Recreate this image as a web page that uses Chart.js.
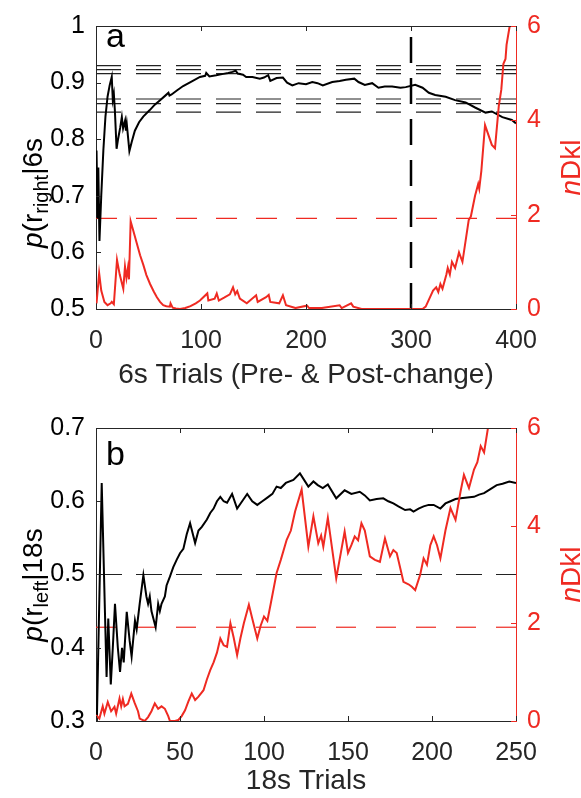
<!DOCTYPE html>
<html>
<head>
<title>p(r) and nDkl traces</title>
<script src="https://cdn.jsdelivr.net/npm/chart.js@4.4.0/dist/chart.umd.min.js"></script>
<style>
    body { margin: 0; background: #fff; }
    #wrap { position: relative; width: 581px; height: 798px; }
    canvas { position: absolute; left: 0; }
    #chartA { top: 0; }
    #chartB { top: 399px; }
</style>
</head>
<body>
<div id="wrap">
    <canvas id="chartA" width="581" height="399"></canvas>
    <canvas id="chartB" width="581" height="399"></canvas>
</div>
<script>
// ---- panel a: 6s trials, [trial, value] ----
const aProb = [
    [0.5,0.78],[1.5,0.66],[2.2,0.75],[3.3,0.62],[5,0.70],[7,0.78],[9,0.84],[11,0.875],[13,0.895],[15,0.91],
    [16,0.87],[17,0.88],[18,0.85],[19.6,0.783],[21,0.80],[23,0.82],[24.6,0.839],[25.8,0.819],[27.7,0.833],[28.5,0.815],
    [29.3,0.827],[31.8,0.779],[34,0.795],[37,0.815],[41,0.83],[45,0.84],[51,0.851],[56,0.861],[61,0.869],[66,0.877],
    [69,0.882],[70,0.877],[72,0.879],[77,0.886],[83,0.894],[90,0.901],[99,0.910],[104,0.912],[105,0.917],[108,0.911],
    [114.5,0.913],[120,0.915],[126,0.917],[130,0.919],[133,0.921],[135,0.916],[140,0.914],[143,0.910],[149,0.910],[156,0.907],
    [160,0.909],[164,0.913],[166,0.903],[172,0.908],[178,0.909],[182,0.900],[187,0.895],[193,0.899],[200,0.897],[206,0.901],
    [211,0.899],[216,0.895],[225,0.901],[232,0.903],[238,0.905],[246,0.907],[250,0.901],[256,0.896],[263,0.899],[269,0.891],
    [275,0.893],[282,0.893],[290,0.891],[295,0.892],[304,0.896],[311,0.891],[317,0.882],[323,0.878],[333,0.875],[342,0.869],
    [352,0.865],[361,0.856],[371,0.847],[377,0.849],[387,0.839],[396,0.834],[400,0.828]
];
const aKl = [
    [0.5,0.12],[3,0.76],[5,0.39],[8,0.15],[11,0.08],[14,0.12],[15,0.15],[17,0.10],[20,1.04],[22.6,0.73],
    [26,0.43],[27.6,0.90],[29,0.66],[30.4,0.87],[31.4,0.63],[33,1.86],[35,1.70],[38.5,1.42],[42,1.14],[45,0.94],
    [48,0.72],[51.5,0.53],[55,0.37],[58,0.25],[61,0.15],[64,0.08],[67,0.06],[70.4,0.05],[71,0.12],[73,0.03],
    [76,0.01],[80,0.0],[85,0.02],[90,0.06],[95,0.12],[99,0.18],[106,0.33],[107,0.18],[113,0.22],[115,0.33],
    [117,0.18],[122,0.24],[127.5,0.31],[130.5,0.46],[132.6,0.31],[134.5,0.38],[137,0.22],[143.6,0.12],[152.5,0.29],[154,0.15],
    [162,0.25],[164.5,0.30],[166,0.15],[174.5,0.12],[178,0.29],[181,0.08],[190,0.02],[201,0.07],[203,0.02],[215,0.02],
    [232,0.08],[234,0.02],[243,0.12],[245,0.05],[253,0.0],[311,0.0],[314,0.05],[321,0.39],[324,0.46],[326,0.36],
    [328,0.53],[330,0.43],[333.7,0.73],[335,0.87],[337,0.73],[339,1.0],[342,0.87],[345.7,1.2],[349,1.0],[355,1.89],
    [357,1.96],[361,2.4],[364,2.65],[365,2.55],[367,2.93],[370.5,3.9],[377,3.48],[380,3.41],[383.6,4.3],[386,4.65],
    [388,5.2],[390,5.3],[391,5.6],[394,6.0],[396,6.4]
];
const aBounds = [0.930, 0.923, 0.916, 0.871, 0.863, 0.848];
const aChange = 300;
const aXTicks = [0, 100, 200, 300, 400];
const aYTicks = [0.5, 0.6, 0.7, 0.8, 0.9, 1];

// ---- panel b: 18s trials ----
const bProb = [
    [0.5,0.30],[3.4,0.625],[6.3,0.36],[7.3,0.44],[8.8,0.35],[10,0.40],[11.3,0.46],[13,0.40],[14.3,0.367],[15.5,0.40],
    [16.5,0.38],[18.3,0.449],[20,0.41],[21.2,0.388],[23.2,0.437],[24.2,0.425],[26,0.46],[28.2,0.499],[30,0.47],[31,0.46],
    [32,0.47],[33,0.45],[35.5,0.428],[37,0.46],[38,0.45],[39,0.46],[41,0.47],[42,0.485],[44,0.497],[46,0.51],
    [48,0.52],[50,0.529],[52,0.535],[54,0.555],[56,0.57],[59,0.543],[61,0.56],[63,0.565],[66,0.575],[68,0.584],
    [70,0.59],[72,0.60],[74,0.606],[76,0.60],[78,0.598],[81,0.61],[84,0.59],[87,0.60],[90,0.61],[93,0.60],
    [96,0.595],[99,0.60],[102,0.605],[105,0.61],[107.5,0.62],[110,0.618],[113,0.625],[117.5,0.629],[121.4,0.638],[126.4,0.62],
    [129.4,0.627],[132,0.622],[135,0.618],[138,0.623],[143,0.604],[148,0.615],[152,0.61],[157,0.613],[160,0.608],[163,0.601],
    [167,0.603],[171,0.604],[174,0.60],[177,0.597],[180,0.593],[184,0.588],[187,0.589],[189,0.586],[192,0.59],[195,0.593],
    [198,0.595],[201,0.595],[205,0.590],[208,0.597],[211,0.60],[214,0.603],[217,0.604],[221,0.605],[225,0.606],[228,0.609],
    [231,0.611],[235,0.617],[238.5,0.622],[242,0.624],[246,0.627],[250,0.625]
];
const bKl = [
    [0,0.12],[2,0.05],[4,0.3],[5,0.15],[7,0.39],[9,0.2],[11,0.29],[12,0.15],[14,0.46],[15,0.3],
    [16,0.45],[17,0.3],[19,0.35],[21,0.56],[23,0.37],[25,0.2],[26,0.05],[29,0.0],[31,0.08],[33,0.2],
    [35,0.36],[37,0.25],[39,0.3],[41,0.25],[43,0.1],[44,0.0],[47,0.0],[49,0.02],[51,0.1],[53,0.22],
    [55,0.4],[57,0.56],[59,0.43],[61,0.5],[64,0.63],[66,0.85],[68,1.04],[70,1.2],[72,1.4],[74,1.69],
    [76,1.55],[78,1.52],[80,2.0],[82,1.7],[84,1.35],[86,1.7],[88,2.0],[91,2.38],[93,2.1],[96,1.69],
    [98,1.95],[100,2.14],[102,2.05],[104,2.4],[107.5,3.03],[110,3.3],[113.5,3.71],[116,3.9],[118.5,4.29],[122.4,4.74],
    [126.4,3.57],[129.4,4.19],[132.3,3.64],[134,3.8],[135.3,3.57],[138,4.16],[143,2.92],[148,3.88],[150,3.44],[152,3.6],
    [154,3.78],[156,3.7],[158,4.05],[160,3.9],[163,3.37],[166,3.3],[169,3.26],[172,3.74],[175,3.37],[177,3.5],
    [179,3.44],[183,2.85],[186,2.8],[188,2.75],[190,2.68],[193,3.0],[195,3.33],[197,3.2],[199,3.6],[201,3.78],
    [203,3.6],[205,3.33],[208,3.9],[211,4.36],[214,4.12],[217,4.7],[219,5.04],[222,4.77],[225,5.15],[227,5.3],
    [229,5.63],[231,5.5],[233.5,6.04],[235,6.3]
];
const bChance = 0.5;
const bXTicks = [0, 50, 100, 150, 200, 250];
const bYTicks = [0.3, 0.4, 0.5, 0.6, 0.7];

// shared right axis
const klTicks = [0, 2, 4, 6];
const klCrit = 1.92;

const AX = '#262626';
const RED = '#ef2a22';
const FAM = '"Liberation Sans", Arial, Helvetica, sans-serif';
Chart.defaults.font.family = FAM;

function pts(arr) { return arr.map(d => ({x: d[0], y: d[1]})); }
function hline(v, x0, x1, axis, color, dash, w) {
    return { data: [{x: x0, y: v}, {x: x1, y: v}], yAxisID: axis, borderColor: color,
             borderWidth: w, borderDash: dash };
}
// matlab style: 1 not 1.0
function fmt(v) { return String(+v.toFixed(2)); }

function drawRich(ctx, parts, x, y) {
    ctx.save();
    ctx.translate(x, y);
    ctx.rotate(-Math.PI / 2);
    ctx.textAlign = 'left';
    ctx.textBaseline = 'alphabetic';
    let w = 0;
    parts.forEach(p => { ctx.font = p.font; w += ctx.measureText(p.t).width; });
    let cx = -w / 2;
    parts.forEach(p => {
        ctx.font = p.font;
        ctx.fillStyle = p.color;
        ctx.fillText(p.t, cx, p.dy || 0);
        cx += ctx.measureText(p.t).width;
    });
    ctx.restore();
}

const decor = {
    id: 'decor',
    afterDraw(chart, args, o) {
        const {ctx, chartArea: a, scales} = chart;
        ctx.save();
        ctx.lineWidth = 1;
        ctx.strokeStyle = AX;
        ctx.beginPath();
        ctx.moveTo(a.left, a.top + 0.5);
        ctx.lineTo(a.right, a.top + 0.5);
        o.xTicks.forEach(v => {
            const x = Math.round(scales.x.getPixelForValue(v)) + 0.5;
            ctx.moveTo(x, a.bottom); ctx.lineTo(x, a.bottom - 5);
            ctx.moveTo(x, a.top); ctx.lineTo(x, a.top + 5);
        });
        o.yTicks.forEach(v => {
            const y = Math.round(scales.y.getPixelForValue(v)) + 0.5;
            ctx.moveTo(a.left, y); ctx.lineTo(a.left + 5, y);
        });
        ctx.stroke();
        ctx.strokeStyle = RED;
        ctx.beginPath();
        klTicks.forEach(v => {
            const y = Math.round(scales.y2.getPixelForValue(v)) + 0.5;
            ctx.moveTo(a.right, y); ctx.lineTo(a.right - 5, y);
        });
        ctx.stroke();

        // panel letter
        ctx.fillStyle = '#000';
        ctx.font = '34px ' + FAM;
        ctx.textBaseline = 'alphabetic';
        ctx.fillText(o.letter, 106, o.letterY);

        // axis titles with subscripts
        const big = '28px ' + FAM, it = 'italic 28px ' + FAM, sub = '20px ' + FAM;
        drawRich(ctx, [
            {t: 'p', font: it, color: '#000'},
            {t: '(r', font: big, color: '#000'},
            {t: o.sub, font: sub, color: '#000', dy: 6},
            {t: o.cond, font: big, color: '#000'}
        ], 42, o.yTitleY);
        drawRich(ctx, [
            {t: 'n', font: it, color: RED},
            {t: 'Dkl', font: big, color: RED}
        ], 580, (a.top + a.bottom) / 2);
        ctx.restore();
    }
};

function panel(id, p) {
    const tickFont = {size: 25};
    return new Chart(document.getElementById(id), {
        type: 'line',
        data: { datasets: p.datasets },
        options: {
            responsive: false,
            animation: false,
            layout: { padding: { top: p.top, left: 0, right: 0, bottom: 0 } },
            elements: { point: { radius: 0 }, line: { tension: 0 } },
            plugins: { legend: { display: false }, tooltip: { enabled: false }, decor: p },
            scales: {
                x: {
                    type: 'linear', min: 0, max: p.xMax,
                    afterBuildTicks: s => { s.ticks = p.xTicks.map(v => ({value: v})); },
                    afterFit: s => { s.height = p.xHeight; },
                    grid: { display: false, drawTicks: false },
                    border: { display: true, color: AX, width: 1 },
                    ticks: { color: AX, font: tickFont, padding: p.xPad, maxRotation: 0, autoSkip: false, callback: fmt },
                    title: { display: true, text: p.xTitle, color: AX, font: {size: 28},
                             padding: { top: 0, bottom: p.xTitlePad } }
                },
                y: {
                    position: 'left', min: p.yMin, max: p.yMax,
                    afterBuildTicks: s => { s.ticks = p.yTicks.map(v => ({value: v})); },
                    afterFit: s => { s.width = 96; },
                    grid: { display: false, drawTicks: false },
                    border: { display: true, color: AX, width: 1 },
                    ticks: { color: '#000', font: tickFont, padding: 11, callback: fmt }
                },
                y2: {
                    position: 'right', min: 0, max: 6,
                    afterBuildTicks: s => { s.ticks = klTicks.map(v => ({value: v})); },
                    afterFit: s => { s.width = 65; },
                    grid: { display: false, drawTicks: false },
                    border: { display: true, color: RED, width: 1 },
                    ticks: { color: RED, font: tickFont, padding: 11, callback: fmt }
                }
            }
        },
        plugins: [decor]
    });
}

panel('chartA', {
    top: 16, xHeight: 90, xPad: 17, xTitlePad: 7, xMax: 400,
    yMin: 0.5, yMax: 1, xTicks: aXTicks, yTicks: aYTicks,
    xTitle: '6s Trials (Pre- & Post-change)',
    letter: 'a', letterY: 47, yTitleY: 193, sub: 'right', cond: '|6s',
    datasets: [
        { data: pts(aKl), yAxisID: 'y2', borderColor: RED, borderWidth: 2 },
        { data: pts(aProb), yAxisID: 'y', borderColor: '#000', borderWidth: 2 },
        { data: [{x: aChange, y: 0.5}, {x: aChange, y: 1}], yAxisID: 'y', borderColor: '#000',
          borderWidth: 2.5, borderDash: [26, 15] },
        hline(klCrit, 0, 400, 'y2', RED, [21, 19], 1.2)
    ].concat(aBounds.map(v => hline(v, 0, 400, 'y', '#222', [25, 15], 1.2)))
});

panel('chartB', {
    top: 29, xHeight: 77, xPad: 17, xTitlePad: 0, xMax: 250,
    yMin: 0.3, yMax: 0.7, xTicks: bXTicks, yTicks: bYTicks,
    xTitle: '18s Trials',
    letter: 'b', letterY: 66, yTitleY: 186, sub: 'left', cond: '|18s',
    datasets: [
        { data: pts(bKl), yAxisID: 'y2', borderColor: RED, borderWidth: 2 },
        { data: pts(bProb), yAxisID: 'y', borderColor: '#000', borderWidth: 2 },
        hline(klCrit, 0, 250, 'y2', RED, [20, 20], 1.2),
        hline(bChance, 0, 250, 'y', '#222', [26, 14], 1.2)
    ]
});
</script>
</body>
</html>
